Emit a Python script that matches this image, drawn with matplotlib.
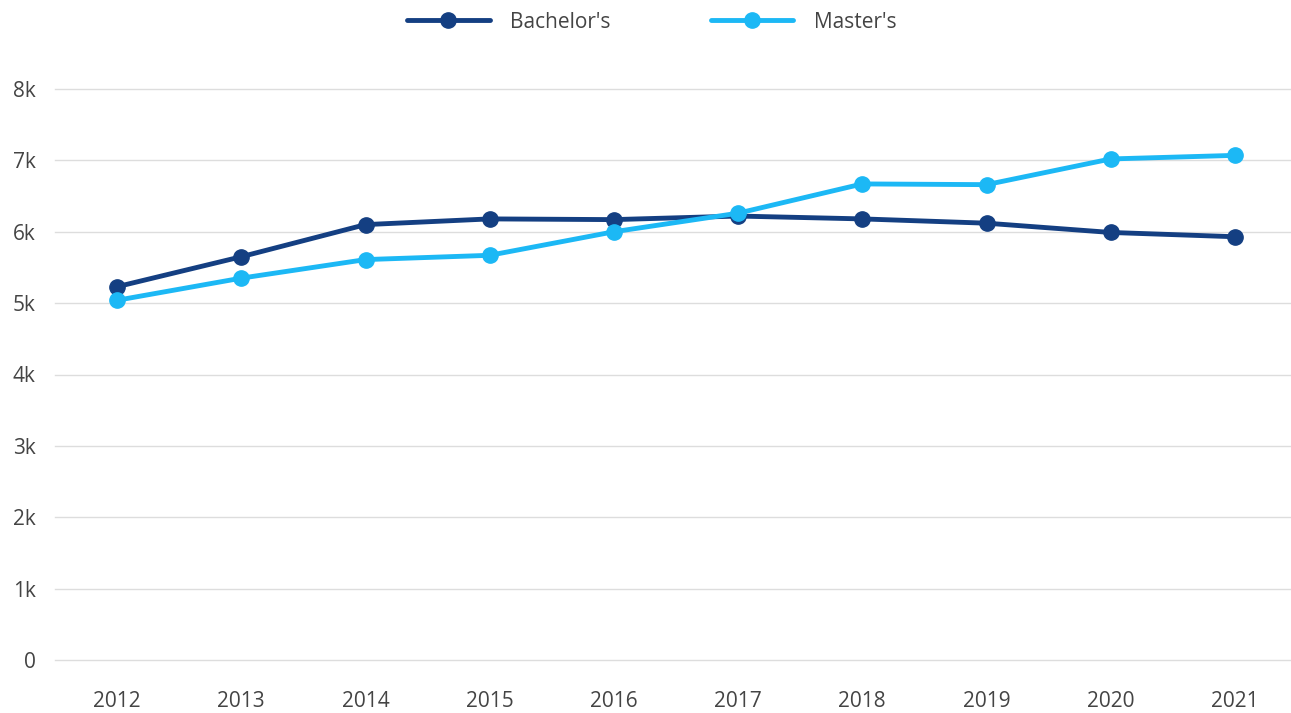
import numpy as np
import matplotlib.pyplot as plt

plt.rcParams['font.family'] = ['Open Sans', 'DejaVu Sans']

years = ['2012', '2013', '2014', '2015', '2016', '2017', '2018', '2019', '2020', '2021']
bachelors = [5.23, 5.65, 6.10, 6.18, 6.17, 6.22, 6.18, 6.12, 5.99, 5.93]
masters = [5.04, 5.35, 5.61, 5.67, 6.00, 6.26, 6.67, 6.66, 7.02, 7.07]
y_ticks = [0, 1, 2, 3, 4, 5, 6, 7, 8]
y_labels = ['0', '1k', '2k', '3k', '4k', '5k', '6k', '7k', '8k']

dark = '#143f82'
light = '#1cb8f5'
text_col = '#444444'

W, H = 1291, 713
fig = plt.figure(figsize=(W / 100, H / 100), dpi=100)
ax = fig.add_axes([55 / W, 53 / H, 1242 / W, 571 / H])

x = np.arange(len(years))
ax.plot(x, bachelors, color=dark, lw=3.5, marker='o', ms=11, label="Bachelor's",
        solid_capstyle='round', zorder=3)
ax.plot(x, masters, color=light, lw=3.5, marker='o', ms=11, label="Master's",
        solid_capstyle='round', zorder=3)

ax.set_xlim(-0.5, len(years) - 0.5)
ax.set_ylim(0, 8)
ax.set_xticks(x)
ax.set_xticklabels(years)
ax.set_yticks(y_ticks)
ax.set_yticklabels(y_labels)
ax.tick_params(axis='both', length=0, labelsize=15, labelcolor=text_col)
ax.tick_params(axis='y', pad=14)
ax.tick_params(axis='x', pad=22)

ax.grid(axis='y', color='#dddddd', lw=1)
for g in ax.get_ygridlines():
    g.set_clip_on(False)
ax.set_axisbelow(True)
for s in ax.spines.values():
    s.set_visible(False)

leg = fig.legend(loc='center', bbox_to_anchor=(652 / W, 1 - 22 / H), ncol=2,
                 frameon=False, fontsize=15, handlelength=3.95,
                 handletextpad=1.0, columnspacing=4.8)
for t in leg.get_texts():
    t.set_color(text_col)

fig.savefig('out.png', dpi=100)
